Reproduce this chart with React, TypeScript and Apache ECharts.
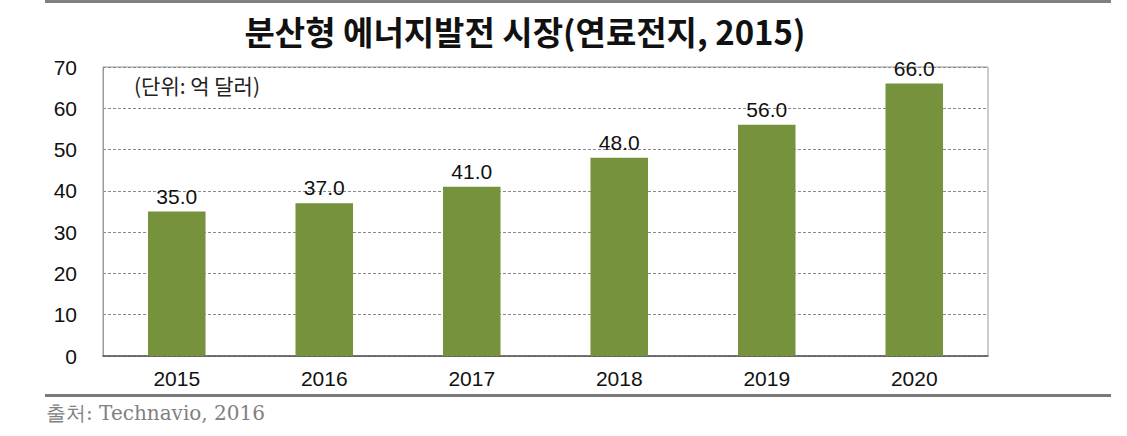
import React, { useEffect, useRef } from "react";
import * as echarts from "echarts";

const categories = ["2015", "2016", "2017", "2018", "2019", "2020"];
const values = [35.0, 37.0, 41.0, 48.0, 56.0, 66.0];
const yTicks = [0, 10, 20, 30, 40, 50, 60, 70];

const TITLE = "분산형 에너지발전 시장(연료전지, 2015)";
const UNIT = "(단위: 억 달러)";
const SOURCE = "출처: Technavio, 2016";

export default function App() {
  const ref = useRef<HTMLDivElement>(null);
  useEffect(() => {
    if (!ref.current) return;
    const chart = echarts.init(ref.current, null, { renderer: "svg" });
    chart.setOption({
      animation: false,
      backgroundColor: "#ffffff",
      title: {
        text: TITLE,
        left: 520,
        top: 9,
        textAlign: "center",
        textStyle: {
          fontFamily: "'Noto Sans CJK KR', sans-serif",
          fontWeight: "bold",
          fontSize: 33,
          color: "#111111",
        },
      },
      grid: {
        left: 103,
        right: 139,
        top: 67,
        bottom: 80,
        show: true,
        borderColor: "#9a9a9a",
        borderWidth: 1,
      },
      xAxis: {
        type: "category",
        data: categories,
        axisTick: { show: false },
        axisLine: { show: true, lineStyle: { color: "#555555", width: 1.5 } },
        axisLabel: {
          color: "#111111",
          fontSize: 21,
          fontFamily: "'Liberation Sans', Arial, sans-serif",
          margin: 12,
        },
      },
      yAxis: {
        type: "value",
        min: yTicks[0],
        max: yTicks[yTicks.length - 1],
        interval: 10,
        axisLine: { show: true, lineStyle: { color: "#9a9a9a" } },
        axisTick: { show: false },
        axisLabel: {
          color: "#111111",
          fontSize: 21,
          fontFamily: "'Liberation Sans', Arial, sans-serif",
          margin: 26,
        },
        splitLine: {
          show: true,
          lineStyle: { color: "#8a8a8a", type: [3, 2], width: 1 },
        },
      },
      series: [
        {
          type: "bar",
          data: values,
          barWidth: "39%",
          itemStyle: { color: "#76923c" },
          label: {
            show: true,
            position: "top",
            distance: 5,
            formatter: (p: any) => Number(p.value).toFixed(1),
            color: "#111111",
            fontSize: 21,
            fontFamily: "'Liberation Sans', Arial, sans-serif",
          },
        },
      ],
      graphic: [
        {
          type: "rect",
          shape: { x: 45, y: 0, width: 1066, height: 3 },
          style: { fill: "#808080" },
        },
        {
          type: "text",
          x: 134,
          y: 85,
          style: {
            text: UNIT,
            fontSize: 21,
            fontFamily: "'Noto Sans CJK KR', sans-serif",
            fill: "#222222",
            verticalAlign: "middle",
          },
        },
        {
          type: "rect",
          shape: { x: 45, y: 394, width: 1066, height: 3 },
          style: { fill: "#7a7a7a" },
        },
        {
          type: "text",
          x: 46,
          y: 413,
          style: {
            text: SOURCE,
            fontSize: 20,
            fontFamily: "'DejaVu Serif', 'Liberation Serif', serif",
            fill: "#808080",
            verticalAlign: "middle",
          },
        },
      ],
    });
    return () => chart.dispose();
  }, []);
  return (
    <div
      ref={ref}
      style={{ position: "fixed", left: 0, top: 0, width: 1127, height: 436 }}
    />
  );
}
